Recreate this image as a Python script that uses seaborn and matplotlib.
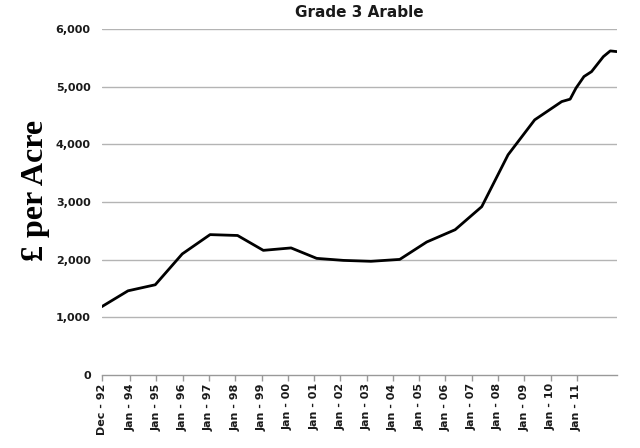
import pandas as pd
import seaborn as sns
import matplotlib.pyplot as plt

dates = ['1992-12-01', '1993-12-01', '1994-12-15', '1995-12-25', '1997-01-15',
         '1998-02-01', '1999-01-25', '2000-02-15', '2001-02-05', '2002-02-10',
         '2003-03-01', '2004-04-05', '2005-04-15', '2006-05-15', '2007-05-20',
         '2008-05-20', '2009-05-25', '2010-06-05', '2010-09-30', '2010-12-20',
         '2011-04-10', '2011-07-25', '2012-01-05', '2012-04-10', '2012-07-10']
prices = [1185, 1460, 1565, 2100, 2435, 2420, 2162, 2204, 2023, 1988,
          1972, 2005, 2307, 2520, 2920, 3820, 4426, 4743, 4785, 4976,
          5177, 5263, 5523, 5622, 5610]

tick_dates = ['1992-12-01'] + [f'{y}-01-01' for y in range(1994, 2012)]
tick_labels = ['Dec - 92'] + [f'Jan - {str(y)[2:]}' for y in range(1994, 2012)]
y_ticks = [0, 1000, 2000, 3000, 4000, 5000, 6000]

df = pd.DataFrame({'Date': pd.to_datetime(dates), 'Price': prices})

sns.set_style('white')
plt.rcParams['font.family'] = ['DejaVu Sans']

fig = plt.figure(figsize=(6.4, 4.48), dpi=100)
ax = fig.add_axes([0.159, 0.163, 0.805, 0.772])

for y in y_ticks[1:]:
    ax.axhline(y, color='#b4b4b4', linewidth=1.0, zorder=1)

sns.lineplot(data=df, x='Date', y='Price', color='black', linewidth=2.0, ax=ax, zorder=3)

ax.set_xlim(pd.Timestamp('1992-12-01'), pd.Timestamp('2012-07-12'))
ax.set_ylim(0, 6000)
ax.set_yticks(y_ticks)
ax.set_yticklabels([f'{v:,}' for v in y_ticks], fontsize=8, fontweight='bold', color='#1a1a1a')
ax.set_xticks(pd.to_datetime(tick_dates))
ax.set_xticklabels(tick_labels, rotation=90, fontsize=8, fontweight='bold', color='#1a1a1a')
ax.tick_params(axis='x', length=4, width=1, color='#999999', pad=2, bottom=True)
ax.tick_params(axis='y', length=0, pad=8)

for s in ['left', 'top', 'right']:
    ax.spines[s].set_visible(False)
ax.spines['bottom'].set_color('#999999')
ax.spines['bottom'].set_linewidth(1.0)

ax.set_xlabel('')
ax.set_ylabel('£ per Acre', fontsize=23, fontweight='bold', family='Liberation Serif', color='black')
ax.yaxis.set_label_coords(-0.10, 0.535)
ax.set_title('Grade 3 Arable', fontsize=11, fontweight='bold', color='#1a1a1a', pad=9)

fig.savefig('out.png', dpi=100)
